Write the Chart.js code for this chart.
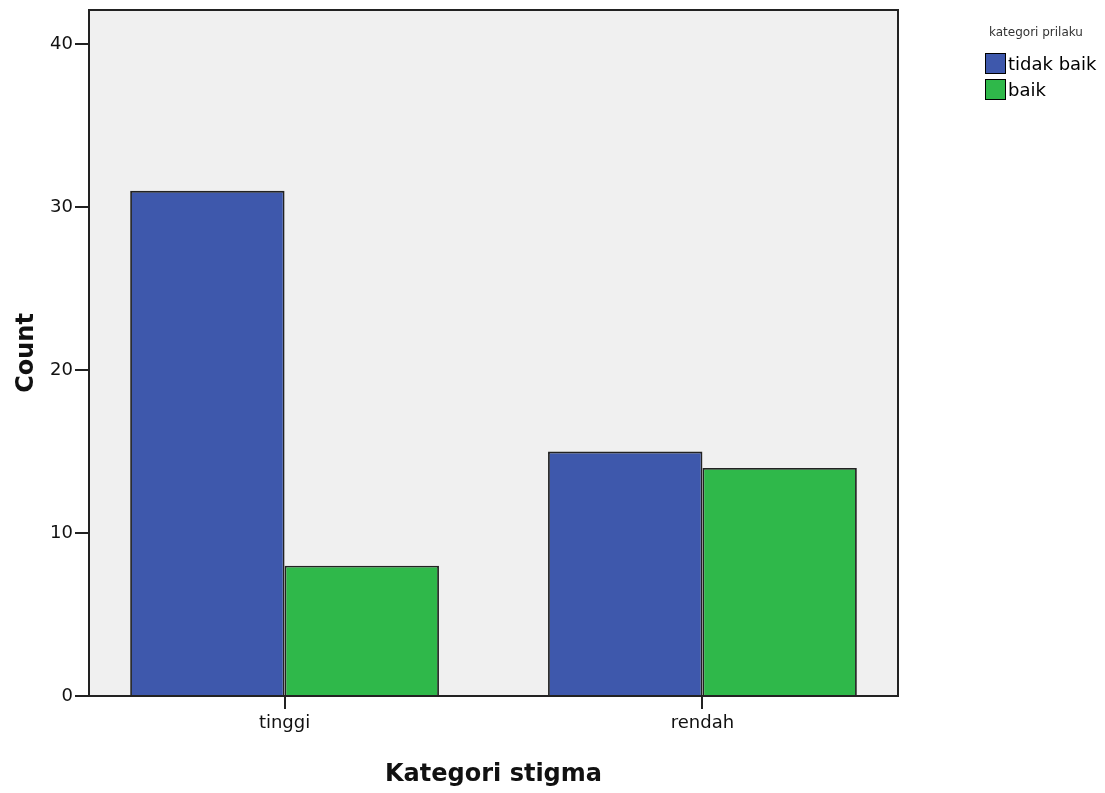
<!DOCTYPE html>
<html lang="id">
  <head>
    <meta charset="UTF-8" />
    <title>Kategori stigma</title>
    <script src="https://cdn.jsdelivr.net/npm/chart.js"></script>
    <style>
      body {
        margin: 0;
        background: #fff;
        font-family: "DejaVu Sans", sans-serif;
      }
      #wrap {
        position: relative;
        width: 1105px;
        height: 793px;
      }
      #legend {
        position: absolute;
        left: 985px;
        top: 22px;
        color: #000;
      }
      #legend .title {
        font-size: 12px;
        color: #333;
        margin-left: 4px;
        height: 28px;
        line-height: 20px;
      }
      #legend .item {
        display: flex;
        align-items: center;
        height: 26px;
        font-size: 18px;
      }
      #legend .box {
        width: 19px;
        height: 19px;
        border: 1.5px solid #000;
        margin-right: 2px;
      }
    </style>
  </head>
  <body>
    <div id="wrap">
      <canvas id="myChart"></canvas>
      <div id="legend"></div>
    </div>

    <script>
      // data
      var categories = ['tinggi', 'rendah'];
      var seriesNames = ['tidak baik', 'baik'];
      var tidakBaik = [31, 15];
      var baik = [8, 14];
      var yTicks = [0, 10, 20, 30, 40];
      var seriesColors = ['#3e58ac', '#2fb84a'];

      function toPoints(values) {
          return values.map(function (v, i) { return { x: i + 1, y: v }; });
      }

      // grey plot background and frame
      var plotFrame = {
          id: 'plotFrame',
          beforeDraw: function (chart) {
              var a = chart.chartArea, ctx = chart.ctx;
              ctx.save();
              ctx.fillStyle = '#f0f0f0';
              ctx.fillRect(a.left, a.top, a.right - a.left, a.bottom - a.top);
              ctx.restore();
          },
          afterDraw: function (chart) {
              var a = chart.chartArea, ctx = chart.ctx;
              ctx.save();
              ctx.strokeStyle = '#222';
              ctx.lineWidth = 2;
              ctx.strokeRect(a.left, a.top, a.right - a.left, a.bottom - a.top);
              ctx.restore();
          }
      };

      var ctx = document.getElementById('myChart').getContext('2d');
      var myChart = new Chart(ctx, {
          type: 'bar',
          data: {
              datasets: [
                  { label: seriesNames[0], data: toPoints(tidakBaik), backgroundColor: seriesColors[0] },
                  { label: seriesNames[1], data: toPoints(baik), backgroundColor: seriesColors[1] }
              ]
          },
          options: {
              responsive: true,
              maintainAspectRatio: false,
              animation: false,
              layout: { padding: { left: 0, top: 10, right: 207, bottom: 0 } },
              datasets: {
                  bar: {
                      borderColor: '#222',
                      borderWidth: 1.8,
                      categoryPercentage: 0.739,
                      barPercentage: 1
                  }
              },
              plugins: {
                  legend: { display: false },
                  tooltip: { enabled: false }
              },
              scales: {
                  x: {
                      type: 'linear',
                      min: 0.532,
                      max: 2.468,
                      offset: false,
                      afterBuildTicks: function (scale) {
                          scale.ticks = categories.map(function (c, i) { return { value: i + 1 }; });
                      },
                      afterFit: function (scale) {
                          scale.height = 97;
                          scale.paddingLeft = 0;
                          scale.paddingRight = 0;
                      },
                      border: { display: true, color: '#222', width: 2 },
                      grid: { offset: false, drawOnChartArea: false, drawTicks: true, tickLength: 13, color: '#222', lineWidth: 2 },
                      ticks: {
                          autoSkip: false,
                          maxRotation: 0,
                          padding: 4,
                          color: '#111',
                          font: { family: 'DejaVu Sans', size: 18 },
                          callback: function (v) { return categories[v - 1]; }
                      },
                      title: {
                          display: true,
                          text: 'Kategori stigma',
                          color: '#111',
                          font: { family: 'DejaVu Sans', size: 24, weight: 'bold' },
                          padding: { top: 0, bottom: 4 }
                      }
                  },
                  y: {
                      min: 0,
                      max: 42.1,
                      afterBuildTicks: function (scale) {
                          scale.ticks = yTicks.map(function (v) { return { value: v }; });
                      },
                      afterFit: function (scale) {
                          scale.width = 89;
                          scale.paddingTop = 0;
                          scale.paddingBottom = 0;
                      },
                      border: { display: true, color: '#222', width: 2 },
                      grid: { drawOnChartArea: false, drawTicks: true, tickLength: 14, color: '#222', lineWidth: 2 },
                      ticks: {
                          padding: 2,
                          color: '#111',
                          font: { family: 'DejaVu Sans', size: 18 }
                      },
                      title: {
                          display: true,
                          text: 'Count',
                          color: '#111',
                          font: { family: 'DejaVu Sans', size: 24, weight: 'bold' },
                          padding: { top: 12, bottom: 0 }
                      }
                  }
              }
          },
          plugins: [plotFrame]
      });

      // legend built from the series names
      var legendHtml = '<div class="title">kategori prilaku</div>';
      seriesNames.forEach(function (name, i) {
          legendHtml += '<div class="item"><span class="box" style="background:' + seriesColors[i] + '"></span>' + name + '</div>';
      });
      document.getElementById('legend').innerHTML = legendHtml;
    </script>
  </body>
</html>
